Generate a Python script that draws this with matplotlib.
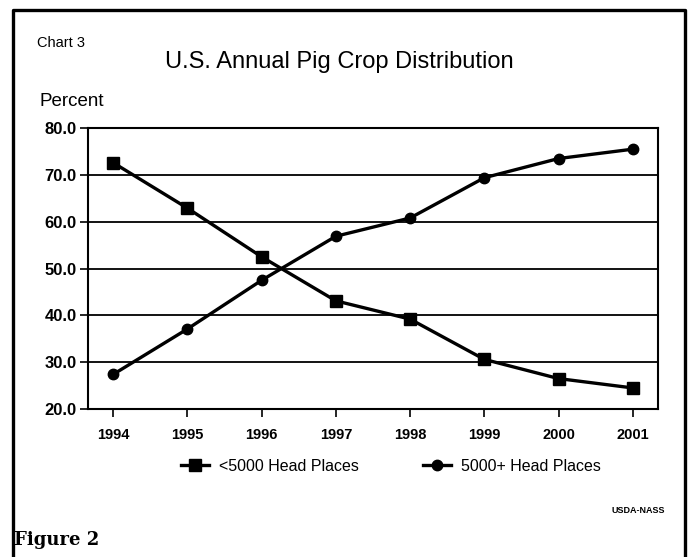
import matplotlib
matplotlib.use('Agg')
import matplotlib.pyplot as plt
from matplotlib.lines import Line2D

plt.rcParams['font.family'] = ['Liberation Sans', 'DejaVu Sans']

years = [1994, 1995, 1996, 1997, 1998, 1999, 2000, 2001]
small_places = [72.6, 62.9, 52.5, 43.1, 39.2, 30.6, 26.5, 24.5]
large_places = [27.4, 37.1, 47.5, 56.9, 60.8, 69.4, 73.5, 75.5]
yticks = [20, 30, 40, 50, 60, 70, 80]

fig = plt.figure(figsize=(6.89, 5.57), dpi=100)
ax = fig.add_axes([0.1277, 0.2657, 0.8273, 0.5043])

for y in yticks[1:-1]:
    ax.axhline(y, color='black', lw=1.3, zorder=1)

ax.plot(years, small_places, color='black', lw=2.4, marker='s', ms=8.5,
        label='<5000 Head Places', zorder=3)
ax.plot(years, large_places, color='black', lw=2.4, marker='o', ms=7.5,
        label='5000+ Head Places', zorder=3)

ax.set_xlim(1994 - 0.34, 2001 + 0.34)
ax.set_ylim(20, 80)
ax.set_yticks(yticks)
ax.set_yticklabels(['%.1f' % v for v in yticks])
ax.set_xticks(years)
ax.set_xticklabels([str(y) for y in years])
for lab in ax.get_xticklabels():
    lab.set_fontweight('bold')
    lab.set_fontsize(10.5)
for lab in ax.get_yticklabels():
    lab.set_fontweight('bold')
    lab.set_fontsize(12)
ax.tick_params(axis='both', direction='out', length=6, width=1.2, color='black')
ax.tick_params(axis='x', pad=8)
ax.tick_params(axis='y', pad=2)
for sp in ax.spines.values():
    sp.set_linewidth(1.5)

fig.legend(loc='center', bbox_to_anchor=(0.567, 0.163), ncol=2, frameon=False,
           fontsize=11.5, handlelength=1.8, columnspacing=4.0, handletextpad=0.6)

fig.text(0.054, 0.915, 'Chart 3', fontsize=10.5)
fig.text(0.492, 0.888, 'U.S. Annual Pig Crop Distribution', fontsize=17,
         ha='center', va='center')
fig.text(0.058, 0.817, 'Percent', fontsize=13.5, va='center')
fig.text(0.965, 0.084, 'USDA-NASS', fontsize=6.5, fontweight='bold',
         ha='right', va='center')
fig.text(0.02, 0.03, 'Figure 2', fontsize=13, fontweight='bold',
         family='DejaVu Serif', va='center')

# border round the page
bx = [13 / 689, 13 / 689, 685 / 689, 685 / 689]
by = [0.0, 1 - 10 / 557, 1 - 10 / 557, 0.0]
fig.add_artist(Line2D(bx, by, transform=fig.transFigure, color='black', lw=2.4))

fig.savefig('out.png', dpi=100)
